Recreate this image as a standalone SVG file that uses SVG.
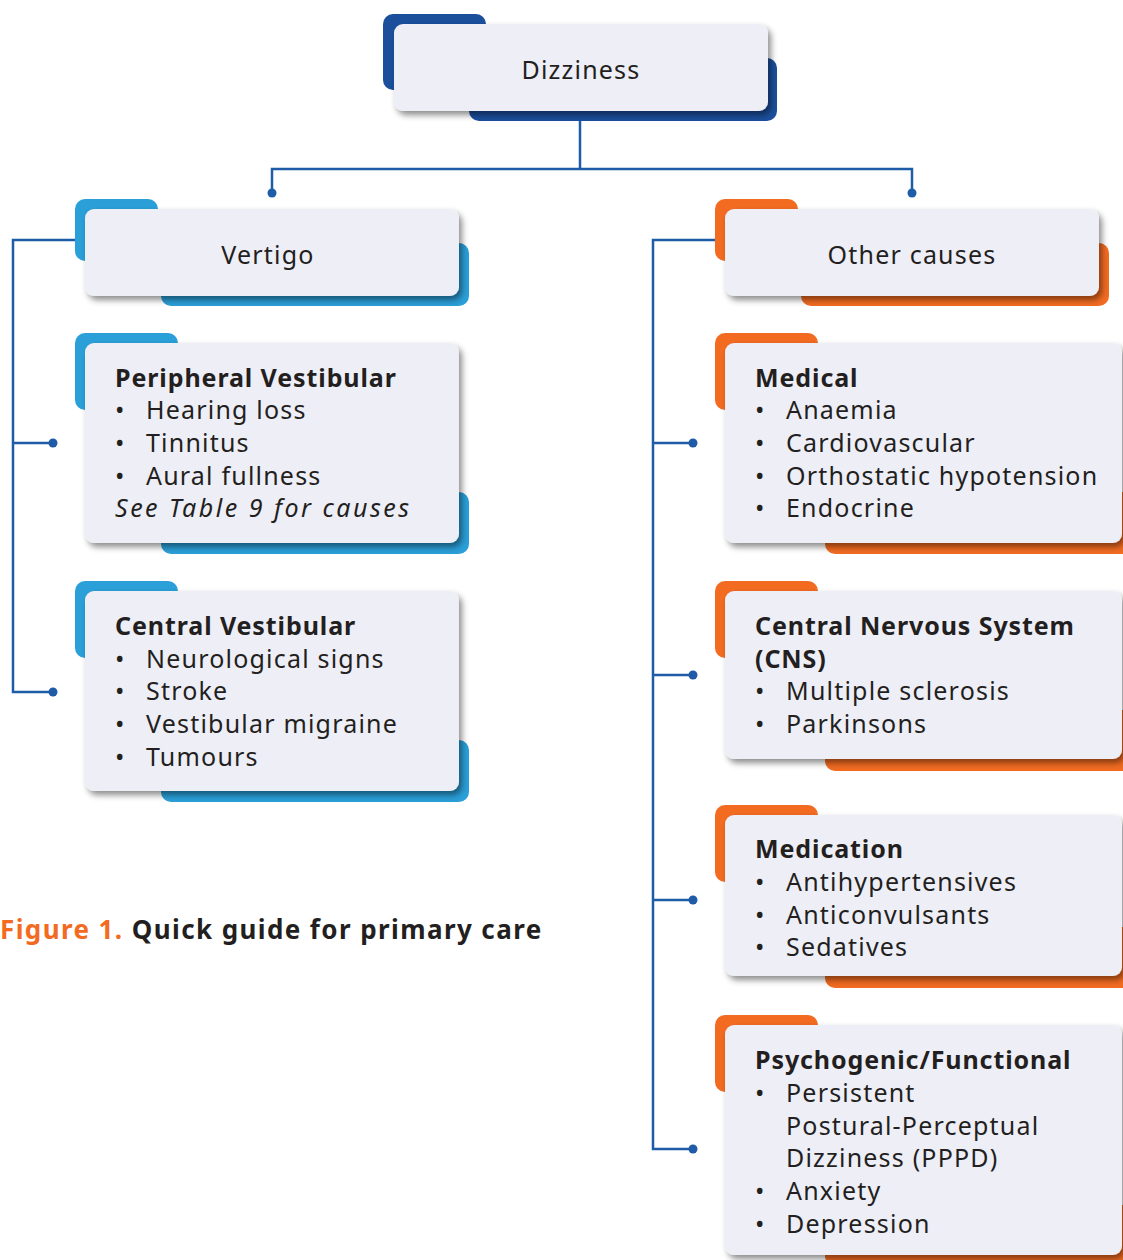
<svg xmlns="http://www.w3.org/2000/svg" width="1123" height="1260" viewBox="0 0 1123 1260">
<defs>
<filter id="sh" x="-10%" y="-10%" width="125%" height="140%">
<feDropShadow dx="3" dy="4" stdDeviation="3" flood-color="#000" flood-opacity="0.45"/>
</filter>
<style>
.box{fill:#eeeef7;filter:url(#sh)}
.navy{fill:#1b4f9c}
.blue{fill:#2a9fd8}
.orange{fill:#f26b21}
.t{font-family:"Noto Sans","Open Sans",sans-serif;font-size:25px;letter-spacing:1.2px;fill:#231f20}
.c{text-anchor:middle}
.b{font-weight:bold;letter-spacing:0.9px}
.i{font-style:italic;letter-spacing:2.5px}
.ln{fill:none;stroke:#1f5ca8;stroke-width:2.5}
.dot{fill:#1f5ca8}
.cap{font-family:"Noto Sans","Open Sans",sans-serif;font-size:26px;font-weight:bold;letter-spacing:1.4px;fill:#231f20}
</style>
</defs>
<rect width="1123" height="1260" fill="#fff"/>

<g id="connectors">
<path class="ln" d="M580 111V169M272 193V169H912V193"/>
<circle class="dot" cx="272" cy="193" r="4.5"/>
<circle class="dot" cx="912" cy="193" r="4.5"/>
<path class="ln" d="M76 240H13V692H53M13 443H53"/>
<circle class="dot" cx="53" cy="443" r="4.5"/>
<circle class="dot" cx="53" cy="692" r="4.5"/>
<path class="ln" d="M716 240H653V1149H693M653 443H693M653 675H693M653 900H693"/>
<circle class="dot" cx="693" cy="443" r="4.5"/>
<circle class="dot" cx="693" cy="675" r="4.5"/>
<circle class="dot" cx="693" cy="900" r="4.5"/>
<circle class="dot" cx="693" cy="1149" r="4.5"/>
</g>

<g id="dizziness">
<rect class="navy" x="383" y="14" width="103" height="76" rx="10"/>
<rect class="navy" x="469" y="58" width="308" height="63" rx="10"/>
<rect class="box" x="394" y="24" width="374" height="87" rx="9"/>
<text class="t c" x="581" y="79">Dizziness</text>
</g>

<g id="vertigo">
<rect class="blue" x="75" y="199" width="83" height="62" rx="10"/>
<rect class="blue" x="161" y="243" width="308" height="63" rx="10"/>
<rect class="box" x="85" y="209" width="374" height="87" rx="9"/>
<text class="t c" x="268" y="264">Vertigo</text>
</g>

<g id="peripheral">
<rect class="blue" x="75" y="333" width="103" height="77" rx="10"/>
<rect class="blue" x="161" y="492" width="308" height="62" rx="10"/>
<rect class="box" x="85" y="343" width="374" height="200" rx="9"/>
<text class="t b" x="115" y="387">Peripheral Vestibular</text>
<text class="t" x="115" y="419">•<tspan x="146">Hearing loss</tspan></text>
<text class="t" x="115" y="452">•<tspan x="146">Tinnitus</tspan></text>
<text class="t" x="115" y="485">•<tspan x="146">Aural fullness</tspan></text>
<text class="t i" x="115" y="517">See Table 9 for causes</text>
</g>

<g id="central">
<rect class="blue" x="75" y="581" width="103" height="77" rx="10"/>
<rect class="blue" x="161" y="740" width="308" height="62" rx="10"/>
<rect class="box" x="85" y="591" width="374" height="200" rx="9"/>
<text class="t b" x="115" y="635">Central Vestibular</text>
<text class="t" x="115" y="668">•<tspan x="146">Neurological signs</tspan></text>
<text class="t" x="115" y="700">•<tspan x="146">Stroke</tspan></text>
<text class="t" x="115" y="733">•<tspan x="146">Vestibular migraine</tspan></text>
<text class="t" x="115" y="766">•<tspan x="146">Tumours</tspan></text>
</g>

<g id="other">
<rect class="orange" x="715" y="199" width="83" height="62" rx="10"/>
<rect class="orange" x="801" y="243" width="308" height="63" rx="10"/>
<rect class="box" x="725" y="209" width="374" height="87" rx="9"/>
<text class="t c" x="912" y="264">Other causes</text>
</g>

<g id="medical">
<rect class="orange" x="715" y="333" width="103" height="77" rx="10"/>
<rect class="orange" x="825" y="492" width="310" height="62" rx="10"/>
<rect class="box" x="725" y="343" width="397" height="200" rx="9"/>
<text class="t b" x="755" y="387">Medical</text>
<text class="t" x="755" y="419">•<tspan x="786">Anaemia</tspan></text>
<text class="t" x="755" y="452">•<tspan x="786">Cardiovascular</tspan></text>
<text class="t" x="755" y="485">•<tspan x="786">Orthostatic hypotension</tspan></text>
<text class="t" x="755" y="517">•<tspan x="786">Endocrine</tspan></text>
</g>

<g id="cns">
<rect class="orange" x="715" y="581" width="103" height="77" rx="10"/>
<rect class="orange" x="825" y="710" width="310" height="61" rx="10"/>
<rect class="box" x="725" y="591" width="397" height="168" rx="9"/>
<text class="t b" x="755" y="635">Central Nervous System</text>
<text class="t b" x="755" y="668">(CNS)</text>
<text class="t" x="755" y="700">•<tspan x="786">Multiple sclerosis</tspan></text>
<text class="t" x="755" y="733">•<tspan x="786">Parkinsons</tspan></text>
</g>

<g id="medication">
<rect class="orange" x="715" y="805" width="103" height="77" rx="10"/>
<rect class="orange" x="825" y="927" width="310" height="61" rx="10"/>
<rect class="box" x="725" y="815" width="397" height="161" rx="9"/>
<text class="t b" x="755" y="858">Medication</text>
<text class="t" x="755" y="891">•<tspan x="786">Antihypertensives</tspan></text>
<text class="t" x="755" y="924">•<tspan x="786">Anticonvulsants</tspan></text>
<text class="t" x="755" y="956">•<tspan x="786">Sedatives</tspan></text>
</g>

<g id="psychogenic">
<rect class="orange" x="715" y="1015" width="103" height="77" rx="10"/>
<rect class="orange" x="825" y="1205" width="310" height="61" rx="10"/>
<rect class="box" x="725" y="1025" width="397" height="230" rx="9"/>
<text class="t b" x="755" y="1069">Psychogenic/Functional</text>
<text class="t" x="755" y="1102">•<tspan x="786">Persistent</tspan></text>
<text class="t" x="786" y="1135">Postural-Perceptual</text>
<text class="t" x="786" y="1167">Dizziness (PPPD)</text>
<text class="t" x="755" y="1200">•<tspan x="786">Anxiety</tspan></text>
<text class="t" x="755" y="1233">•<tspan x="786">Depression</tspan></text>
</g>

<text id="caption" class="cap" x="0" y="939"><tspan fill="#f26b21">Figure 1.</tspan> Quick guide for primary care</text>
</svg>
